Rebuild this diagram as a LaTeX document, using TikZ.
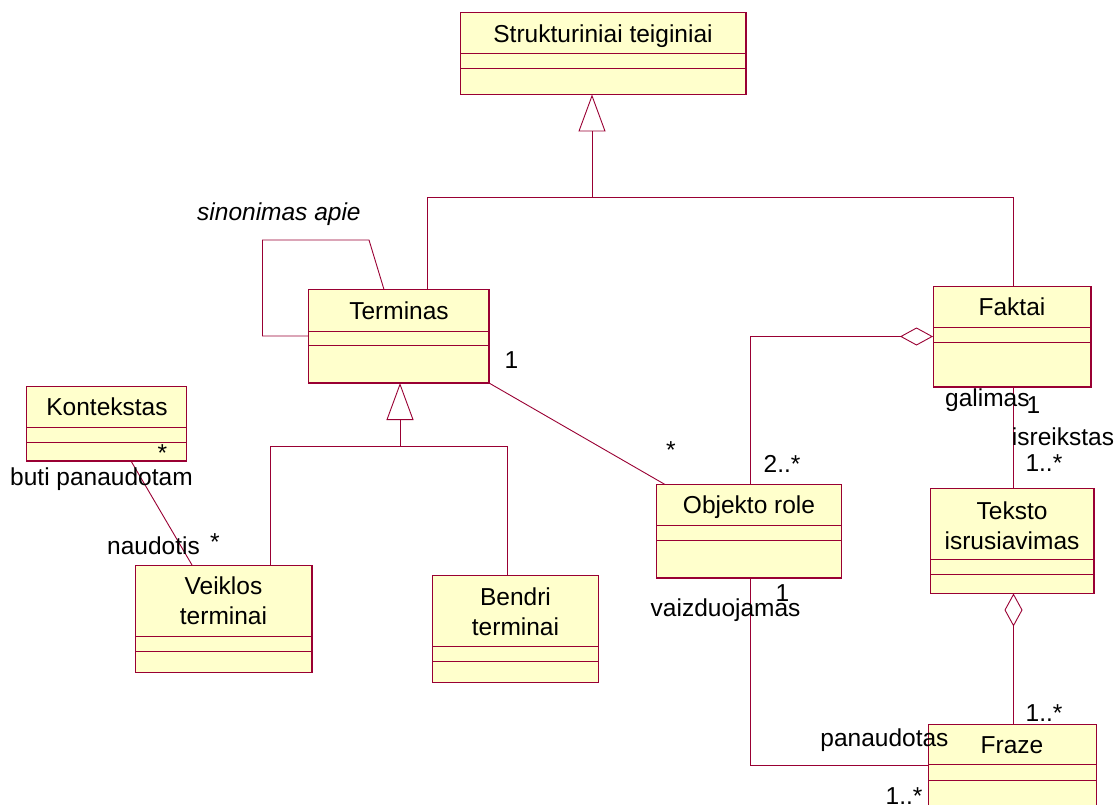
\documentclass[tikz,border=0pt]{standalone}
\usepackage{fontspec}
\setmainfont{Liberation Sans}
\usetikzlibrary{arrows.meta}

\definecolor{rosered}{HTML}{990033}
\definecolor{classfill}{HTML}{FFFFCC}
\newcommand\umlfont{\fontsize{24.5}{30}\selectfont}

\tikzset{
  clsbox/.style={draw=rosered, fill=classfill, line width=0.9pt, inner sep=0pt, outer sep=0pt},
  clssep/.style={draw=rosered, line width=0.9pt},
  clsedge/.style={draw=rosered, line width=1.8pt},
  clsname/.style={font=\umlfont, anchor=base, align=center, inner sep=0pt},
  lbl/.style={font=\umlfont, anchor=base west, inner sep=0pt},
  assoc/.style={draw=rosered, line width=0.9pt},
  inherit/.style={assoc, -{Triangle[open, length=37pt, width=27pt]}},
  aggr/.style={assoc, {Diamond[open, length=33pt, width=18pt]}-},
}

% class box: name, x1, y1, x2, y2, first separator y, second separator y
\newcommand\umlcls[7]{%
  \pgfmathsetmacro\clsw{#4-#2}%
  \pgfmathsetmacro\clsh{#5-#3}%
  \node[clsbox, minimum width=\clsw pt, minimum height=\clsh pt, anchor=north west] (#1) at (#2,#3) {};
  \draw[clssep] (#1.west |- 0,#6) -- (#1.east |- 0,#6);
  \draw[clssep] (#1.west |- 0,#7) -- (#1.east |- 0,#7);
  \draw[clsedge] (#1.north east) -- (#1.south east) -- (#1.south west);
}

\begin{document}
\begin{tikzpicture}[x=1pt, y=-1pt]
\clip (0,0) rectangle (1118,805);

% classes
\umlcls{st}{460}{12.5}{746}{94.5}{53}{68}
\umlcls{term}{308}{289.5}{489}{383}{331}{345.5}
\umlcls{kont}{26.5}{386.5}{186.5}{461}{427.5}{442}
\umlcls{veik}{135}{565}{312}{672.5}{636.5}{651}
\umlcls{bend}{432.5}{575}{598.5}{682.5}{646}{661.5}
\umlcls{obj}{656.5}{484.5}{841.5}{578}{525.5}{540.5}
\umlcls{fakt}{933}{286}{1091}{387}{327}{342}
\umlcls{tekst}{930}{488.5}{1094}{593.5}{559.5}{574.5}
\umlcls{fraze}{928}{724}{1096.5}{840}{764.5}{780}

% class names (base anchor sits on the last line)
\node[clsname] (st-n) at (603,42.7) {Strukturiniai teiginiai};
\node[clsname] (term-n) at (399,319.3) {Terminas};
\node[clsname] (kont-n) at (107,415.7) {Kontekstas};
\node[clsname] (veik-n) at (223.5,624) {Veiklos\\terminai};
\node[clsname] (bend-n) at (515.5,635) {Bendri\\terminai};
\node[clsname] (obj-n) at (749,513.3) {Objekto role};
\node[clsname] (fakt-n) at (1012,315.7) {Faktai};
\node[clsname] (tekst-n) at (1012,549.3) {Teksto\\isrusiavimas};
\node[clsname] (fraze-n) at (1012,753.3) {Fraze};

% generalisation into Strukturiniai teiginiai
\coordinate (gj) at (592,197.5);
\coordinate (gL) at (427,197.5);
\coordinate (gR) at (1013.5,197.5);
\draw[inherit] (gj) -- (st.south -| gj);
\draw[assoc] (term.north -| gL) -- (gL) -- (gR) -- (fakt.north -| gR);

% generalisation into Terminas
\coordinate (hj) at (400,446);
\coordinate (hL) at (270.5,446);
\coordinate (hR) at (507.5,446);
\draw[inherit] (hj) -- (term.south -| hj);
\draw[assoc] (veik.north -| hL) -- (hL) -- (hR) -- (bend.north -| hR);

% reflexive association on Terminas
\coordinate (s1) at (262.5,336);
\coordinate (s2) at (262.5,240);
\coordinate (s3) at (369,240);
\draw[assoc] (term.west |- s1) -- (s1) -- (s2) -- (s3) -- (term.north -| 384,0);

% associations
\draw[assoc] (term.south east) -- (obj.north -| 665,0);
\draw[assoc] (kont.south -| 131,0) -- (veik.north -| 192,0);
\draw[assoc] (fakt.south -| 1013.5,0) -- (tekst.north -| 1013.5,0);
\draw[assoc] (obj.south -| 750,0) |- (fraze.west |- 0,765);

% aggregations
\coordinate (ay) at (750,336.5);
\draw[aggr] (fakt.west |- ay) -- (ay) -- (obj.north -| ay);
\draw[aggr] (tekst.south -| 1013.5,0) -- (fraze.north -| 1013.5,0);

% role names and multiplicities
\node[lbl, font=\umlfont\itshape] (l-sin) at (197,220.7) {sinonimas apie};
\node[lbl] (m-term) at (504.5,368.3) {1};
\node[clsname] (m-obj1) at (671,458.5) {*};
\node[lbl] (m-obj2) at (763.5,472.3) {2..*};
\node[clsname] (m-kont) at (162.3,461) {*};
\node[lbl] (l-buti) at (10,485.5) {buti panaudotam};
\node[lbl] (l-naud) at (107,554.3) {naudotis};
\node[clsname] (m-veik) at (215,550) {*};
\node[lbl] (l-gal) at (945,406.7) {galimas};
\node[lbl] (m-fakt) at (1026.5,413.3) {1};
\node[lbl] (l-isr) at (1011.7,445) {isreikstas};
\node[lbl] (m-tekst) at (1025.3,471.7) {1..*};
\node[lbl] (m-obj3) at (775.5,601.5) {1};
\node[lbl] (l-vaiz) at (650.5,616) {vaizduojamas};
\node[lbl] (m-fraze1) at (1025.5,721.7) {1..*};
\node[lbl] (l-pan) at (820.2,746.7) {panaudotas};
\node[lbl] (m-fraze2) at (885.5,804) {1..*};
\end{tikzpicture}
\end{document}
